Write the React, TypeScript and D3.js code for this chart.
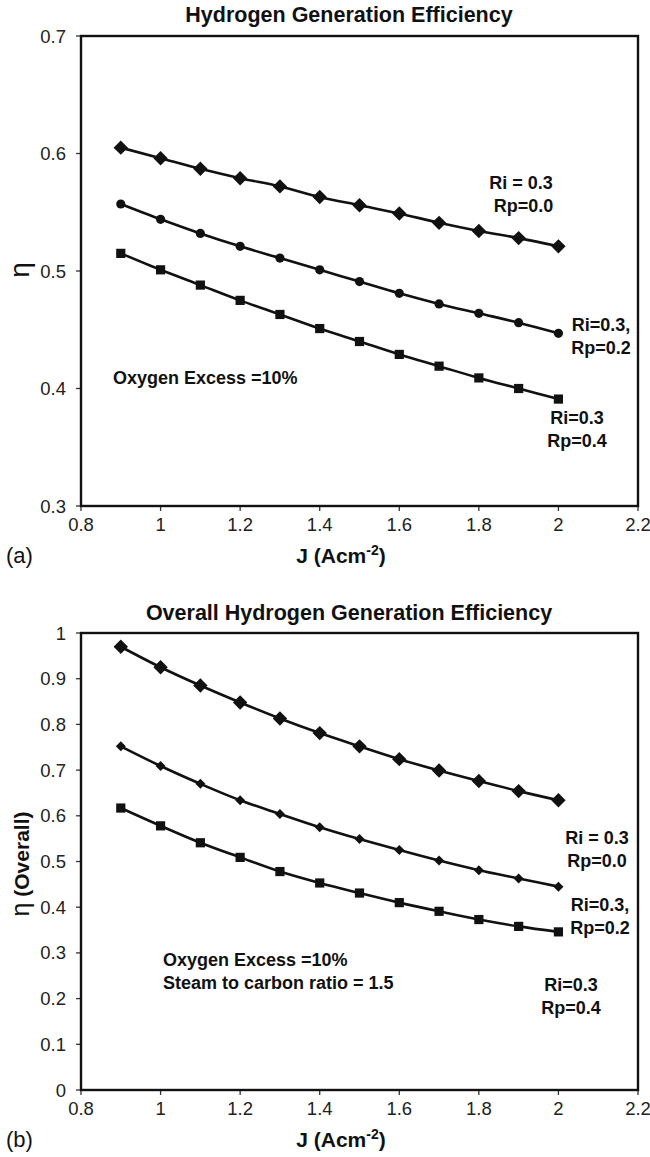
import React from "react";
import * as d3 from "d3";

// current density J (A cm^-2), same for every series
const jValues = [0.9, 1.0, 1.1, 1.2, 1.3, 1.4, 1.5, 1.6, 1.7, 1.8, 1.9, 2.0];
const xTicks = [0.8, 1, 1.2, 1.4, 1.6, 1.8, 2, 2.2];

// (a) hydrogen generation efficiency
const effRp00 = [0.605, 0.596, 0.587, 0.579, 0.572, 0.563, 0.556, 0.549, 0.541, 0.534, 0.528, 0.521];
const effRp02 = [0.557, 0.544, 0.532, 0.521, 0.511, 0.501, 0.491, 0.481, 0.472, 0.464, 0.456, 0.447];
const effRp04 = [0.515, 0.501, 0.488, 0.475, 0.463, 0.451, 0.440, 0.429, 0.419, 0.409, 0.400, 0.391];
const yTicksA = [0.3, 0.4, 0.5, 0.6, 0.7];

// (b) overall hydrogen generation efficiency
const overallRp00 = [0.970, 0.925, 0.885, 0.848, 0.813, 0.781, 0.752, 0.724, 0.699, 0.676, 0.654, 0.634];
const overallRp02 = [0.752, 0.709, 0.670, 0.634, 0.604, 0.575, 0.549, 0.525, 0.502, 0.481, 0.463, 0.445];
const overallRp04 = [0.617, 0.578, 0.541, 0.509, 0.478, 0.453, 0.431, 0.410, 0.391, 0.373, 0.358, 0.346];
const yTicksB = [0, 0.1, 0.2, 0.3, 0.4, 0.5, 0.6, 0.7, 0.8, 0.9, 1];

const FONT = "'Liberation Sans', Arial, sans-serif";
const INK = "#111";

type Marker = "diamond" | "smallDiamond" | "circle" | "square";

function MarkerShape({ type, x, y }: { type: Marker; x: number; y: number }) {
  if (type === "circle") return <circle cx={x} cy={y} r={4.6} fill={INK} />;
  if (type === "square") return <rect x={x - 4.6} y={y - 4.6} width={9.2} height={9.2} fill={INK} />;
  const h = type === "diamond" ? 7.2 : 5;
  return <path d={`M${x},${y - h}L${x + h},${y}L${x},${y + h}L${x - h},${y}Z`} fill={INK} />;
}

interface Note { lines: string[]; x: number; y: number; anchor?: string }

function Panel(props: {
  title: string; titleY: number; top: number; bottom: number;
  yDomain: [number, number]; yTicks: number[];
  series: { values: number[]; marker: Marker }[];
  notes: Note[]; yLabel: React.ReactNode; yLabelY: number; letter: string;
}) {
  const { top, bottom } = props;
  const x = d3.scaleLinear().domain([0.8, 2.2]).range([81, 638]);
  const y = d3.scaleLinear().domain(props.yDomain).range([bottom, top]);
  const line = d3.line<number>()
    .x((_, i) => x(jValues[i]))
    .y((d) => y(d))
    .curve(d3.curveMonotoneX);

  return (
    <g fontFamily={FONT}>
      <text x={349} y={props.titleY} textAnchor="middle" fontWeight="bold" fontSize={21.5} fill={INK}>
        {props.title}
      </text>
      {/* y ticks */}
      {props.yTicks.map((t) => (
        <g key={t}>
          <line x1={76} x2={81} y1={y(t)} y2={y(t)} stroke="#333" strokeWidth={1.3} />
          <text x={66} y={y(t) + 6.5} textAnchor="end" fontSize={18.5} fill="#222">{d3.format("~g")(t)}</text>
        </g>
      ))}
      {/* x ticks */}
      {xTicks.map((t) => (
        <g key={t}>
          <line x1={x(t)} x2={x(t)} y1={bottom} y2={bottom + 5} stroke="#333" strokeWidth={1.3} />
          <text x={x(t)} y={bottom + 25} textAnchor="middle" fontSize={18.5} fill="#222">{d3.format("~g")(t)}</text>
        </g>
      ))}
      <rect x={81} y={top} width={638 - 81} height={bottom - top} fill="none" stroke={INK} strokeWidth={2.4} />
      {props.series.map((s, si) => (
        <g key={si}>
          <path d={line(s.values) || ""} fill="none" stroke={INK} strokeWidth={2.6} />
          {s.values.map((v, i) => (
            <MarkerShape key={i} type={s.marker} x={x(jValues[i])} y={y(v)} />
          ))}
        </g>
      ))}
      {props.notes.map((n, ni) => (
        <text key={ni} fontSize={18} fontWeight="bold" fill={INK} textAnchor={n.anchor || "middle"}>
          {n.lines.map((l, li) => (
            <tspan key={li} x={n.x} y={n.y + li * 22.5}>{l}</tspan>
          ))}
        </text>
      ))}
      <text x={341} y={bottom + 57} textAnchor="middle" fontWeight="bold" fontSize={21} fill={INK}>
        J (Acm<tspan dy={-8} fontSize={14}>-2</tspan><tspan dy={8}>)</tspan>
      </text>
      <text x={6} y={bottom + 57} fontSize={22} fill={INK}>({props.letter})</text>
      <g transform={`translate(${29},${props.yLabelY}) rotate(-90)`}>{props.yLabel}</g>
    </g>
  );
}

export default function App() {
  return (
    <svg width={650} height={1157} style={{ position: "absolute", left: 0, top: 0, background: "#fff" }}>
      <Panel
        title="Hydrogen Generation Efficiency" titleY={22} top={36} bottom={506}
        yDomain={[0.3, 0.7]} yTicks={yTicksA}
        series={[
          { values: effRp00, marker: "diamond" },
          { values: effRp02, marker: "circle" },
          { values: effRp04, marker: "square" },
        ]}
        notes={[
          { lines: ["Ri = 0.3", " Rp=0.0"], x: 521, y: 189 },
          { lines: ["Ri=0.3,", "Rp=0.2"], x: 601, y: 331 },
          { lines: ["Ri=0.3", "Rp=0.4"], x: 577, y: 424 },
          { lines: ["Oxygen Excess =10%"], x: 113, y: 384, anchor: "start" },
        ]}
        yLabel={<text textAnchor="middle" fontSize={28} fill={INK}>η</text>}
        yLabelY={270} letter="a"
      />
      <Panel
        title="Overall Hydrogen Generation Efficiency" titleY={620} top={633} bottom={1090}
        yDomain={[0, 1]} yTicks={yTicksB}
        series={[
          { values: overallRp00, marker: "diamond" },
          { values: overallRp02, marker: "smallDiamond" },
          { values: overallRp04, marker: "square" },
        ]}
        notes={[
          { lines: ["Ri = 0.3", "Rp=0.0"], x: 597, y: 844 },
          { lines: ["Ri=0.3,", "Rp=0.2"], x: 600, y: 911 },
          { lines: ["Ri=0.3", "Rp=0.4"], x: 571, y: 991 },
          { lines: ["Oxygen Excess =10%", "Steam to carbon ratio = 1.5"], x: 163, y: 966, anchor: "start" },
        ]}
        yLabel={
          <text textAnchor="middle" fontSize={21} fontWeight="bold" fill={INK}>
            <tspan fontSize={25} fontWeight="normal">η</tspan> (Overall)
          </text>
        }
        yLabelY={864} letter="b"
      />
    </svg>
  );
}
